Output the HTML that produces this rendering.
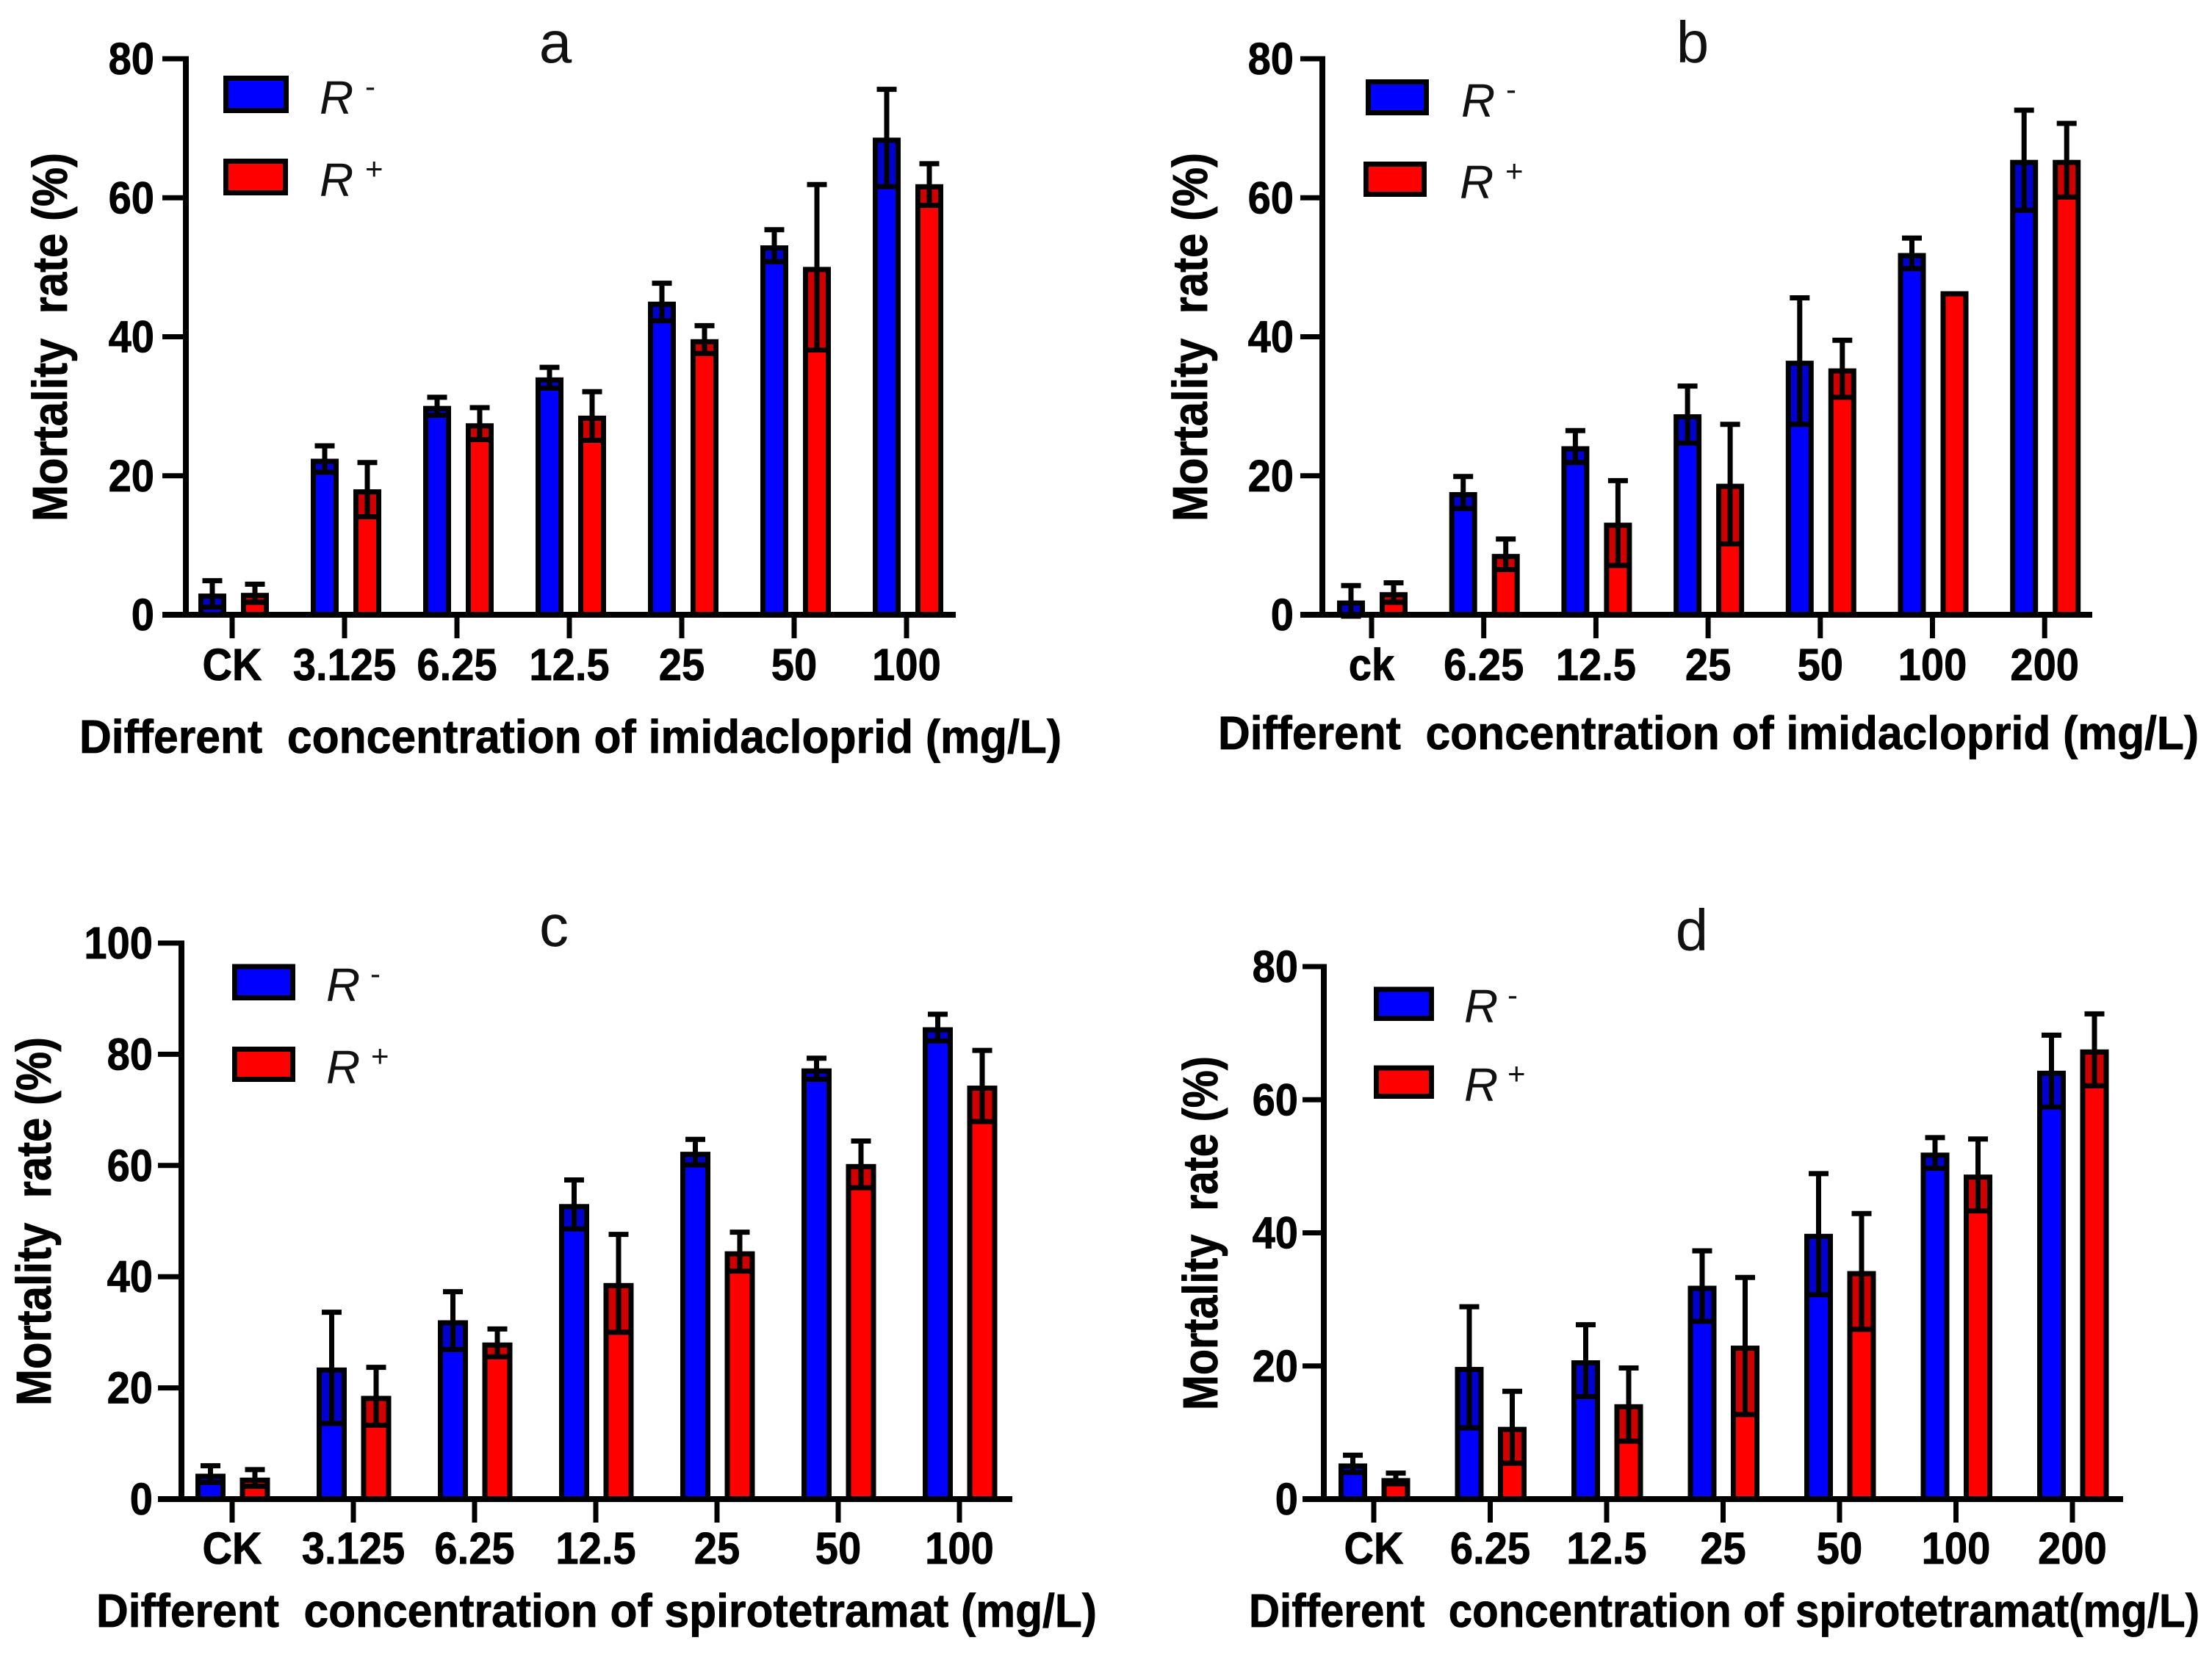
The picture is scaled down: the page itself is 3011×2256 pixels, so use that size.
<!DOCTYPE html>
<html lang="en">
<head>
<meta charset="utf-8">
<title>Mortality rate charts</title>
<style>
html,body{margin:0;padding:0;background:#fff;}
svg{display:block;font-family:"Liberation Sans",sans-serif;}
.axis-title{font-weight:700;font-size:64px;fill:#000;stroke:#000;stroke-width:.8px;}
.y-title{font-size:67px;}
.panel-title{font-size:80px;fill:#111;}
.leg-r{font-style:italic;font-size:64px;fill:#111;}
.leg-sup{font-size:42px;fill:#111;}
.tick-label{font-weight:700;font-size:61px;fill:#000;stroke:#000;stroke-width:.8px;}
</style>
</head>
<body>
<svg id="figure" xmlns="http://www.w3.org/2000/svg" width="3011" height="2256" viewBox="0 0 3011 2256">
<rect x="0" y="0" width="3011" height="2256" fill="#fff"/>

<g id="panel-a">
  <text class="panel-title" x="756" y="85" text-anchor="middle">a</text>
  <text class="axis-title y-title" transform="translate(91,710) rotate(-90)" textLength="502" lengthAdjust="spacingAndGlyphs" xml:space="preserve">Mortality  rate (%)</text>
  <text class="axis-title" x="108" y="1025" textLength="1337" lengthAdjust="spacingAndGlyphs" xml:space="preserve">Different  concentration of imidacloprid (mg/L)</text>
  <g>
    <rect x="307.5" y="106.5" width="82" height="44" fill="#0000ff" stroke="#000" stroke-width="7"/>
    <text class="leg-r" x="435" y="155">R</text>
    <text class="leg-sup" x="497" y="132">-</text>
    <rect x="307.5" y="219.5" width="81" height="43" fill="#ff0000" stroke="#000" stroke-width="7"/>
    <text class="leg-r" x="435" y="267">R</text>
    <text class="leg-sup" x="497" y="244">+</text>
  </g>
</g>

<g id="panel-b">
  <text class="panel-title" x="2304" y="85" text-anchor="middle">b</text>
  <text class="axis-title y-title" transform="translate(1643,710) rotate(-90)" textLength="502" lengthAdjust="spacingAndGlyphs" xml:space="preserve">Mortality  rate (%)</text>
  <text class="axis-title" x="1658" y="1020" textLength="1335" lengthAdjust="spacingAndGlyphs" xml:space="preserve">Different  concentration of imidacloprid (mg/L)</text>
  <g>
    <rect x="1862.5" y="111.5" width="79" height="42" fill="#0000ff" stroke="#000" stroke-width="7"/>
    <text class="leg-r" x="1989" y="159">R</text>
    <text class="leg-sup" x="2050" y="136">-</text>
    <rect x="1859.5" y="223.5" width="79" height="41" fill="#ff0000" stroke="#000" stroke-width="7"/>
    <text class="leg-r" x="1987" y="270">R</text>
    <text class="leg-sup" x="2049" y="247">+</text>
  </g>
</g>

<g id="panel-c">
  <text class="panel-title" x="754" y="1288" text-anchor="middle">c</text>
  <text class="axis-title y-title" transform="translate(69,1914) rotate(-90)" textLength="502" lengthAdjust="spacingAndGlyphs" xml:space="preserve">Mortality  rate (%)</text>
  <text class="axis-title" x="131" y="2215" textLength="1362" lengthAdjust="spacingAndGlyphs" xml:space="preserve">Different  concentration of spirotetramat (mg/L)</text>
  <g>
    <rect x="319.5" y="1316" width="79" height="42.5" fill="#0000ff" stroke="#000" stroke-width="7"/>
    <text class="leg-r" x="444" y="1363">R</text>
    <text class="leg-sup" x="504" y="1340">-</text>
    <rect x="319.5" y="1428.5" width="79" height="41" fill="#ff0000" stroke="#000" stroke-width="7"/>
    <text class="leg-r" x="444" y="1475">R</text>
    <text class="leg-sup" x="505" y="1452">+</text>
  </g>
</g>

<g id="panel-d">
  <text class="panel-title" x="2303" y="1294" text-anchor="middle">d</text>
  <text class="axis-title y-title" transform="translate(1657,1920) rotate(-90)" textLength="482" lengthAdjust="spacingAndGlyphs" xml:space="preserve">Mortality  rate (%)</text>
  <text class="axis-title" x="1700" y="2215" textLength="1294" lengthAdjust="spacingAndGlyphs" xml:space="preserve">Different  concentration of spirotetramat(mg/L)</text>
  <g>
    <rect x="1873.5" y="1347" width="75" height="39.5" fill="#0000ff" stroke="#000" stroke-width="7"/>
    <text class="leg-r" x="1993" y="1392">R</text>
    <text class="leg-sup" x="2052" y="1369">-</text>
    <rect x="1873.5" y="1454" width="75" height="38.5" fill="#ff0000" stroke="#000" stroke-width="7"/>
    <text class="leg-r" x="1993" y="1499">R</text>
    <text class="leg-sup" x="2052" y="1476">+</text>
  </g>
</g>
</svg>

<script>
// Panel a
var aCategories = ['CK', '3.125', '6.25', '12.5', '25', '50', '100'];
var aYTicks = [0, 20, 40, 60, 80];
var aMinus = [3.0, 22.4, 30.0, 34.1, 45.0, 53.1, 68.6];
var aMinusErr = [1.9, 1.9, 1.3, 1.5, 2.7, 2.3, 7.0];
var aPlus = [3.1, 18.0, 27.5, 28.6, 39.6, 50.0, 61.9];
var aPlusErr = [1.3, 3.9, 2.3, 3.5, 2.0, 11.9, 3.0];

// Panel b
var bCategories = ['ck', '6.25', '12.5', '25', '50', '100', '200'];
var bYTicks = [0, 20, 40, 60, 80];
var bMinus = [2.0, 17.6, 24.2, 28.8, 36.5, 52.0, 65.4];
var bMinusErr = [2.2, 2.3, 2.3, 4.1, 9.1, 2.2, 7.2];
var bPlus = [3.2, 8.7, 13.2, 18.8, 35.4, 46.5, 65.4];
var bPlusErr = [1.4, 2.2, 6.1, 8.6, 4.1, 0, 5.3];

// Panel c
var cCategories = ['CK', '3.125', '6.25', '12.5', '25', '50', '100'];
var cYTicks = [0, 20, 40, 60, 80, 100];
var cMinus = [4.5, 23.6, 32.1, 53.0, 62.4, 77.4, 84.8];
var cMinusErr = [1.5, 10.0, 5.2, 4.4, 2.3, 1.9, 2.4];
var cPlus = [3.8, 18.5, 28.1, 38.8, 44.5, 60.2, 74.3];
var cPlusErr = [1.5, 5.2, 2.5, 8.8, 3.5, 4.2, 6.4];

// Panel d
var dCategories = ['CK', '6.25', '12.5', '25', '50', '100', '200'];
var dYTicks = [0, 20, 40, 60, 80];
var dMinus = [5.3, 19.8, 20.8, 32.0, 39.8, 52.0, 64.3];
var dMinusErr = [1.3, 9.1, 5.4, 5.3, 9.1, 2.3, 5.4];
var dPlus = [3.1, 10.8, 14.2, 23.0, 34.2, 48.7, 67.5];
var dPlusErr = [0.8, 5.4, 5.5, 10.3, 8.7, 5.4, 5.4];

var NS = 'http://www.w3.org/2000/svg';

function make(tag, parent, attrs) {
  var el = document.createElementNS(NS, tag);
  for (var k in attrs) { el.setAttribute(k, attrs[k]); }
  parent.appendChild(el);
  return el;
}

function drawBar(g, cx, value, err, fill, w, yOf, name) {
  var top = yOf(value) + 3;
  var bar = make('rect', g, {
    x: cx - w / 2, y: top, width: w, height: yOf(0) - top,
    fill: fill, stroke: '#000', 'stroke-width': 7
  });
  
  
  if (err > 0) {
    var lower = yOf(Math.max(value - err, 0));
    var shade = make('rect', g, {
      x: cx - w / 2, y: top, width: w, height: Math.max(lower - top, 0),
      fill: '#000', opacity: 0.18
    });
    
    
    var eg = make('g', g, { stroke: '#000', 'stroke-width': 7, fill: 'none' });
    
    
    make('line', eg, { x1: cx, x2: cx, y1: yOf(value + err), y2: yOf(value - err) });
    make('line', eg, { x1: cx - 13.5, x2: cx + 13.5, y1: yOf(value + err), y2: yOf(value + err) });
    make('line', eg, { x1: cx - 13.5, x2: cx + 13.5, y1: yOf(value - err), y2: yOf(value - err) });
  }
}

function drawPanel(id, cfg, cats, yTicks, minus, minusErr, plus, plusErr) {
  var root = document.getElementById(id);
  var yMax = yTicks[yTicks.length - 1];
  function yOf(v) { return cfg.y0 - v * (cfg.y0 - cfg.yTop) / yMax; }
  function xOf(i) { return cfg.tick0 + i * cfg.step; }

  var bars = make('g', root, {});
  
  
  cats.forEach(function (c, i) {
    drawBar(bars, xOf(i) + cfg.offMinus, minus[i], minusErr[i], '#0000ff', cfg.barW, yOf, 'bar-r-minus-' + c);
    drawBar(bars, xOf(i) + cfg.offPlus, plus[i], plusErr[i], '#ff0000', cfg.barW, yOf, 'bar-r-plus-' + c);
  });

  var axes = make('g', root, { stroke: '#000', fill: 'none' });
  
  
  var yAxis = make('line', axes, { x1: cfg.axisX, x2: cfg.axisX, y1: cfg.yTop - 3.5, y2: cfg.y0 + 4, 'stroke-width': 8 });
  
  
  var xAxis = make('line', axes, { x1: cfg.tickLeft, x2: cfg.xEnd, y1: cfg.y0, y2: cfg.y0, 'stroke-width': 8 });
  
  

  yTicks.forEach(function (t) {
    var y = yOf(t);
    var tick = make('line', axes, { x1: cfg.tickLeft, x2: cfg.axisX, y1: y, y2: y, 'stroke-width': 7 });
    
    
    var label = make('text', root, {
      'class': 'tick-label', 'text-anchor': 'end',
      transform: 'translate(' + cfg.yLabelX + ',' + (y + 21) + ') scale(0.92,1)'
    });
    
    
    label.textContent = t;
  });

  cats.forEach(function (c, i) {
    var x = xOf(i);
    var tick = make('line', axes, { x1: x, x2: x, y1: cfg.y0, y2: cfg.y0 + 32, 'stroke-width': 7 });
    
    
    var label = make('text', root, {
      'class': 'tick-label', 'text-anchor': 'middle',
      transform: 'translate(' + x + ',' + cfg.xLabelY + ') scale(0.92,1)'
    });
    
    
    label.textContent = c;
  });
}

drawPanel('panel-a',
  { axisX: 253, xEnd: 1301, y0: 837, yTop: 80, tick0: 316, step: 153, offMinus: -27, offPlus: 31, barW: 31, tickLeft: 221, yLabelX: 210, xLabelY: 926 },
  aCategories, aYTicks, aMinus, aMinusErr, aPlus, aPlusErr);
drawPanel('panel-b',
  { axisX: 1800, xEnd: 2848, y0: 837, yTop: 80, tick0: 1867, step: 152.7, offMinus: -28, offPlus: 30, barW: 31, tickLeft: 1770, yLabelX: 1761, xLabelY: 926 },
  bCategories, bYTicks, bMinus, bMinusErr, bPlus, bPlusErr);
drawPanel('panel-c',
  { axisX: 247, xEnd: 1378, y0: 2041, yTop: 1284, tick0: 316, step: 165, offMinus: -29.5, offPlus: 31, barW: 34, tickLeft: 215, yLabelX: 208, xLabelY: 2129 },
  cCategories, cYTicks, cMinus, cMinusErr, cPlus, cPlusErr);
drawPanel('panel-d',
  { axisX: 1802, xEnd: 2890, y0: 2041, yTop: 1316, tick0: 1870, step: 158.5, offMinus: -28.5, offPlus: 30, barW: 32, tickLeft: 1773, yLabelX: 1767, xLabelY: 2129 },
  dCategories, dYTicks, dMinus, dMinusErr, dPlus, dPlusErr);
</script>
</body>
</html>
